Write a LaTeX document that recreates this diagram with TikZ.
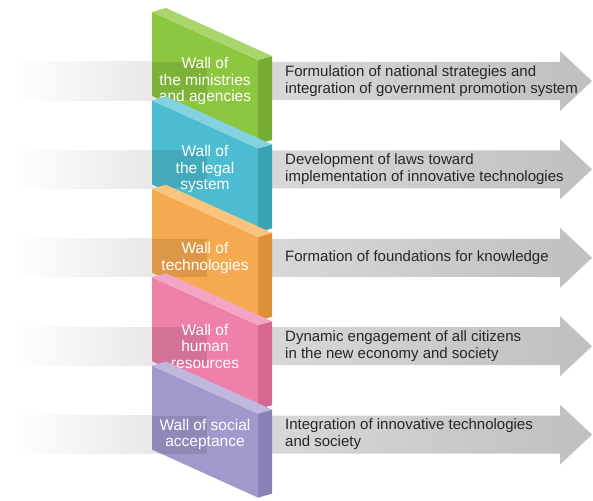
\documentclass[tikz,border=0pt]{standalone}
\usepackage{fontspec}
\setmainfont{Liberation Sans}
\definecolor{frontgrn}{HTML}{8DC63F}
\definecolor{sidegrn}{HTML}{76AC34}
\definecolor{topgrn}{HTML}{AAD46C}
\definecolor{frontblu}{HTML}{4CBDD0}
\definecolor{sideblu}{HTML}{3BA2B5}
\definecolor{topblu}{HTML}{84D1DF}
\definecolor{frontora}{HTML}{F6AA50}
\definecolor{sideora}{HTML}{DD923A}
\definecolor{topora}{HTML}{FAC47F}
\definecolor{frontpnk}{HTML}{EE80AA}
\definecolor{sidepnk}{HTML}{D46893}
\definecolor{toppnk}{HTML}{F4A5C4}
\definecolor{frontpur}{HTML}{A298CC}
\definecolor{sidepur}{HTML}{8A7FB7}
\definecolor{toppur}{HTML}{BFB7DE}

\begin{document}
\begin{tikzpicture}[x=1pt,y=-1pt,
    walltext/.style={text=white,align=center,inner sep=0pt,
      font=\fontsize{15.5}{16.5}\selectfont},
    goaltext/.style={text=black!85,align=left,anchor=west,inner sep=0pt,
      font=\fontsize{15}{17}\selectfont}]
  \useasboundingbox (0,0) rectangle (593,500);
  \foreach \n/\c/\wall/\goal in {
      0/grn/{Wall of\\the ministries\\and agencies}/{Formulation of national strategies and\\integration of government promotion system},
      1/blu/{Wall of\\the legal\\system}/{Development of laws toward\\implementation of innovative technologies},
      2/ora/{Wall of\\technologies}/{Formation of foundations for knowledge},
      3/pnk/{Wall of\\human\\resources}/{Dynamic engagement of all citizens\\in the new economy and society},
      4/pur/{Wall of social\\acceptance}/{Integration of innovative technologies\\and society}}{
    \pgfmathsetmacro{\t}{12+88.4*\n}
    \pgfmathsetmacro{\m}{\t+69}
    \shade[left color=white,right color=gray!25] (12,{\m-19}) rectangle (207,{\m+19});
    \shade[left color=gray!30,right color=gray!50]
      (258,{\m-19}) -- (560,{\m-19}) -- (560,{\m-30}) -- (592,\m)
      -- (560,{\m+30}) -- (560,{\m+19}) -- (258,{\m+19}) -- cycle;
    \fill[front\c] (152,\t) -- (258,{\t+48}) -- (258,{\t+132}) -- (152,{\t+84}) -- cycle;
    \begin{scope}
      \clip (152,\t) -- (258,{\t+48}) -- (258,{\t+132}) -- (152,{\t+84}) -- cycle;
      \fill[black,opacity=.1] (152,{\m-19}) rectangle (207,{\m+19});
    \end{scope}
    \fill[side\c] (258,{\t+48}) -- (272,{\t+44}) -- (272,{\t+128}) -- (258,{\t+132}) -- cycle;
    \fill[top\c] (152,\t) -- (166,{\t-4}) -- (272,{\t+44}) -- (258,{\t+48}) -- cycle;
    \node[walltext] (wall\n) at (205,\m) {\wall};
    \node[goaltext] (goal\n) at (285,\m) {\goal};
  }
\end{tikzpicture}
\end{document}
